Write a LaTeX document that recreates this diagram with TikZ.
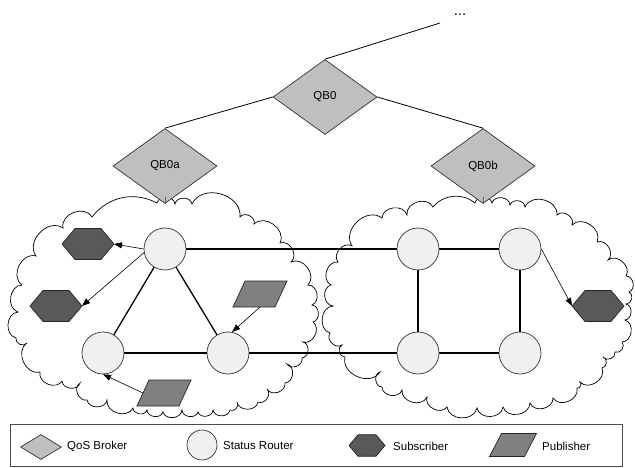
\documentclass[tikz,border=0pt]{standalone}
\usepackage{fontspec}
\setmainfont{Liberation Sans}
\usetikzlibrary{shapes.geometric,arrows.meta}
\begin{document}
\begin{tikzpicture}[x=1pt,y=-1pt,
  every node/.style={font=\fontsize{11.5}{13}\selectfont},
  broker/.style={diamond, draw=black!80, fill=black!25, line width=0.7pt, inner sep=0pt, minimum width=104pt, minimum height=75pt},
  router/.style={circle, draw=black!80, fill=black!6, line width=0.7pt, minimum size=42pt, inner sep=0pt},
  subs/.style={regular polygon, regular polygon sides=6, draw=black!85, fill=black!65, line width=0.7pt, minimum size=52pt, inner sep=0pt, outer sep=0pt, yscale=0.69},
  pubbox/.style={rectangle, inner sep=0pt, outer sep=0pt, minimum width=42pt, minimum height=26pt},
  pubfill/.style={draw=black!85, fill=black!50, line width=0.7pt},
  tree/.style={line width=0.8pt},
  edge/.style={line width=1.3pt},
  arr/.style={line width=0.6pt, -{Triangle[length=8pt,width=6pt]}},
  cloudline/.style={draw=black, fill=white, line width=0.7pt, every to/.style={bend left=80, looseness=1.2}},
  lbl/.style={anchor=west, inner sep=0pt}
]
\useasboundingbox (0,0) rectangle (635,468);

% clouds
\draw[cloudline] (16,338) to (18,312) to (22,285) to (36,256) to (63,228) to (92,217)
  to[bend left=40, looseness=1] (157,203) to (175,204) to (192,204) to (240,217) to (254,224)
  to (280,243) to (291,262) to (308,285) to (312,305) to (313,322) to (303,342) to (302,358)
  to (287,364) to (285,383) to (267,389) to (258,402) to (237,402) to (230,410) to (213,410)
  to (198,412) to (182,410) to (163,412) to (147,410) to (133,408) to (107,400) to (87,400)
  to (80,383) to (62,381) to (40,372) to (27,343) to (16,338) -- cycle;
\draw[cloudline] (352,246) to (382,218) to (407,215) to (433,207)
  to[bend left=45, looseness=1] (475,203) to (492,203) to (510,205) to (525,207) to (557,215)
  to (572,225) to (597,242) to (608,260) to (626,276) to (629,292) to (626,304) to (625,320)
  to (622,342) to (615,352) to (603,357) to (602,368) to (580,382) to (577,388) to (553,398)
  to (530,403) to (503,407) to (477,408) to (447,407) to (427,397) to (402,390) to (382,387)
  to (380,372) to (345,357) to (342,345) to (330,333) to (333,306) to (331,285) to (338,262)
  to (352,246) -- cycle;

% brokers
\node[broker] (qb0) at (325,97) {QB0};
\node[broker] (qba) at (165,166) {QB0a};
\node[broker] (qbb) at (483,166) {QB0b};
\node[anchor=base, font=\fontsize{15}{16}\selectfont] (dots) at (460,16) {...};
\coordinate (up) at (440,23);
\coordinate (ctopa) at (165,197);
\coordinate (ctopb) at (483,197);
\draw[tree] (qb0.north) -- (up);
\draw[tree] (qb0.west) -- (qba.north);
\draw[tree] (qb0.east) -- (qbb.north);
\draw[tree, draw=black!60] (qba.south) -- (ctopa);
\draw[tree, draw=black!60] (qbb.south) -- (ctopb);

% routers
\node[router] (r1) at (165,249) {};
\node[router] (r2) at (103,353) {};
\node[router] (r3) at (228,353) {};
\node[router] (r4) at (418,249) {};
\node[router] (r5) at (520,249) {};
\node[router] (r6) at (418,353) {};
\node[router] (r7) at (520,353) {};
\draw[edge] (r1) -- (r4);
\draw[edge] (r1) -- (r2);
\draw[edge] (r1) -- (r3);
\draw[edge] (r2) -- (r3);
\draw[edge] (r3) -- (r6);
\draw[edge] (r4) -- (r5);
\draw[edge] (r4) -- (r6);
\draw[edge] (r5) -- (r7);
\draw[edge] (r6) -- (r7);

% subscribers and publishers
\node[subs] (s1) at (88,244) {};
\node[subs] (s2) at (56,306) {};
\node[subs] (s3) at (598,306) {};
\node[pubbox] (p1) at (260,294) {};
\node[pubbox] (p2) at (164,393) {};
\foreach \p in {p1,p2}
  \draw[pubfill] ([xshift=-6pt]\p.south west) -- ([xshift=-6pt]\p.south east)
    -- ([xshift=6pt]\p.north east) -- ([xshift=6pt]\p.north west) -- cycle;
\draw[arr] (r1.west) -- (s1.east);
\draw[arr] (r1.190) -- (s2.east);
\draw[arr] (r5.east) -- (s3.west);
\draw[arr] (p1.south) -- (r3.79);
\draw[arr] (p2.west) -- (r2.south);

% legend
\node[draw=black!70, line width=0.8pt, minimum width=612pt, minimum height=42pt, inner sep=0pt] (legend) at (316,445) {};
\node[broker, minimum width=41pt, minimum height=25pt] (lb) at (41,447) {};
\node[lbl] (lbt) at (67,446) {QoS Broker};
\node[router, minimum size=30pt] (lr) at (202,445) {};
\node[lbl] (lrt) at (223,446) {Status Router};
\node[subs, minimum size=36pt] (ls) at (367,445.5) {};
\node[lbl] (lst) at (393,446) {Subscriber};
\node[pubbox, minimum width=35pt, minimum height=23pt] (lp) at (513,445) {};
\draw[pubfill] ([xshift=-6pt]lp.south west) -- ([xshift=-6pt]lp.south east)
    -- ([xshift=6pt]lp.north east) -- ([xshift=6pt]lp.north west) -- cycle;
\node[lbl] (lpt) at (542,446) {Publisher};
\end{tikzpicture}
\end{document}
